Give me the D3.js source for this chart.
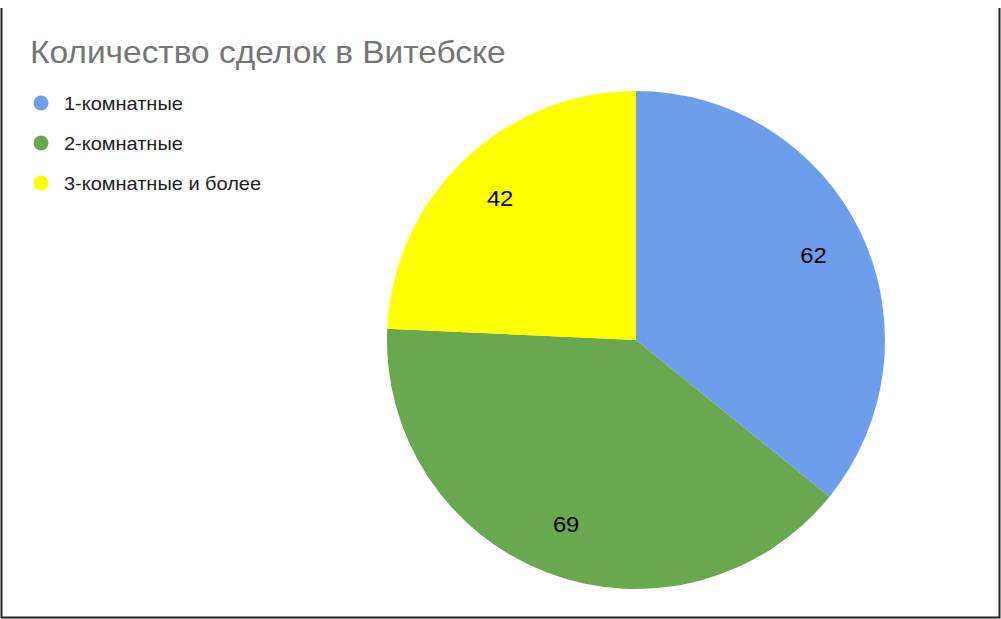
<!DOCTYPE html>
<html>
<head>
<meta charset="utf-8">
<script src="https://cdn.jsdelivr.net/npm/d3@7"></script>
<style>
  html, body { margin: 0; padding: 0; background: #fff; }
  svg { display: block; font-family: "Liberation Sans", Arial, sans-serif; }
</style>
</head>
<body>
<svg id="chart" width="1001" height="619"></svg>
<script>
// ── 데이터 ─────────────────────────────────────────
const categories = ["1-комнатные", "2-комнатные", "3-комнатные и более"];
const values     = [62, 69, 42];
const colors     = ["#6d9eeb", "#6aa84f", "#ffff00"];
const title      = "Количество сделок в Витебске";

// ── 레이아웃 ───────────────────────────────────────
const W = 1001, H = 619;
const CX = 636, CY = 340, R = 249;
const LABEL_R = R * 0.79;
const SX = 1.08;   // 원본 글자가 가로로 약간 넓음

const svg = d3.select("#chart");

svg.append("rect").attr("width", W).attr("height", H).attr("fill", "#fff");

// frame (left / right / bottom)
svg.append("path")
    .attr("d", `M1.5,8 V617.5 H999.5 V8`)
    .attr("fill", "none")
    .attr("stroke", "#222")
    .attr("stroke-width", 2);

// title
svg.append("text")
    .attr("transform", `translate(30,63) scale(${SX},1)`)
    .attr("font-size", 31)
    .attr("fill", "#757575")
    .text(title);

// legend
const color = d3.scaleOrdinal().domain(categories).range(colors);
const legend = svg.append("g").selectAll("g")
    .data(categories).join("g")
    .attr("transform", (d, i) => `translate(41, ${103 + i * 40})`);
legend.append("circle").attr("r", 7.5).attr("fill", d => color(d));
legend.append("text")
    .attr("transform", `translate(23,6.5) scale(${SX + 0.03},1)`)
    .attr("font-size", 18)
    .attr("fill", "#222")
    .text(d => d);

// pie
const pie = d3.pie().sort(null).value(d => d.v);
const arcs = pie(categories.map((c, i) => ({ c, v: values[i] })));
const arc = d3.arc().innerRadius(0).outerRadius(R);
const labelArc = d3.arc().innerRadius(LABEL_R).outerRadius(LABEL_R);

const g = svg.append("g").attr("transform", `translate(${CX},${CY})`);
g.selectAll("path")
    .data(arcs).join("path")
    .attr("d", arc)
    .attr("fill", d => color(d.data.c));

g.selectAll("text")
    .data(arcs).join("text")
    .attr("transform", d => `translate(${labelArc.centroid(d)}) scale(${SX},1)`)
    .attr("text-anchor", "middle")
    .attr("dy", "0.36em")
    .attr("font-size", 22)
    .attr("fill", "#000")
    .text(d => d.data.v);
</script>
</body>
</html>
